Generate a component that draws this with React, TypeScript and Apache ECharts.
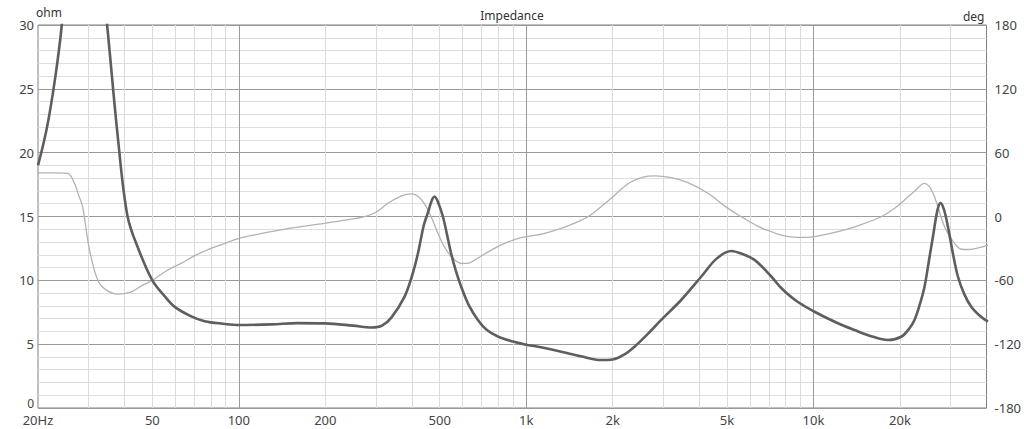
import React, { useEffect, useRef } from "react";
import * as echarts from "echarts";

const impFreq = [20, 21.5, 23, 24.2, 26, 28, 30, 32, 34.8, 38, 41, 45, 50, 55, 60, 68, 76, 88, 100, 130, 160, 200, 250, 290, 315, 340, 377, 400, 420, 440, 455, 470, 480, 492, 513, 530, 548, 570, 594, 630, 679, 730, 797, 900, 1000, 1100, 1324, 1550, 1824, 2000, 2200, 2382, 2650, 2951, 3463, 4064, 4600, 5171, 5600, 6233, 7127, 7720, 8700, 10080, 12000, 13890, 16000, 18150, 20200, 21500, 22460, 23500, 24340, 25200, 26030, 27000, 27670, 28400, 29370, 30500, 31820, 33500, 35400, 38000, 40460];
const impOhm = [19.0, 22, 26, 30, 38, 44, 44, 38, 30, 21, 15, 12.3, 10, 8.8, 7.9, 7.2, 6.8, 6.6, 6.5, 6.55, 6.65, 6.63, 6.45, 6.3, 6.45, 7.1, 8.7, 10.3, 12.1, 14.3, 15.3, 16.3, 16.55, 16.2, 15.0, 13.6, 12.1, 10.7, 9.5, 8.1, 6.9, 6.1, 5.6, 5.2, 4.95, 4.8, 4.41, 4.05, 3.76, 3.8, 4.2, 4.8, 5.8, 6.9, 8.46, 10.28, 11.7, 12.3, 12.1, 11.6, 10.3, 9.4, 8.4, 7.54, 6.7, 6.11, 5.6, 5.33, 5.58, 6.2, 6.9, 8.2, 9.5, 11.5, 13.4, 15.5, 16.05, 15.6, 14.2, 12.2, 10.28, 8.9, 7.93, 7.2, 6.76];

const phaseFreq = [20, 23, 25.4, 26.8, 27.7, 28.6, 30.2, 32.3, 34.5, 37.9, 42, 46, 50.2, 56, 63, 70, 80, 90, 99, 115, 140, 170, 199, 240, 274, 300, 330, 365, 398, 420, 440, 467, 490, 519, 555, 594, 625, 661, 740, 841, 961, 1041, 1150, 1324, 1480, 1640, 1800, 1977, 2150, 2320, 2550, 2797, 3200, 3654, 4290, 4900, 5603, 6500, 7127, 7720, 8500, 9305, 10500, 12160, 14500, 17210, 19000, 20740, 22500, 24340, 25300, 26360, 27400, 28580, 30500, 32660, 35000, 38000, 40460];
const phaseDeg = [41, 41, 40.5, 31, 20, 9, -31, -60, -69, -73, -71, -65, -59.7, -51, -44, -37, -30, -25, -21, -17, -12.5, -9, -6.4, -3, -0.2, 4, 12.4, 19, 21.2, 19, 13, -0.2, -14, -28.4, -39, -44, -44, -41, -33, -25.2, -19.9, -18.3, -16, -11.1, -6, -0.2, 8, 17.1, 26, 32.7, 37, 38.1, 36.5, 31.8, 21.8, 10, -0.2, -10, -14.3, -17.5, -19.3, -19.6, -18, -14.3, -8, -0.2, 7, 15.5, 24, 31.2, 28, 18.6, 5, -9.6, -23, -30.8, -31, -29, -26.8];

const xLabelValues = [20, 50, 100, 200, 500, 1000, 2000, 5000, 10000, 20000];
const xLabelTexts = ["20Hz", "50", "100", "200", "500", "1k", "2k", "5k", "10k", "20k"];
const xMinorGrid = [30, 40, 50, 60, 70, 80, 90, 200, 300, 400, 500, 600, 700, 800, 900, 2000, 3000, 4000, 5000, 6000, 7000, 8000, 9000, 20000, 30000];
const xMajorGrid = [100, 1000, 10000];

const X_MIN = 20;
const X_MAX = 40000;

const zip = (a: number[], b: number[]) => a.map((v, i) => [v, b[i]]);

export default function App() {
  const ref = useRef<HTMLDivElement>(null);
  useEffect(() => {
    if (!ref.current) return;
    const chart = echarts.init(ref.current, null, { renderer: "svg" });
    const font = "Noto Sans";
    const baseX = {
      type: "log" as const,
      logBase: 10,
      min: X_MIN,
      max: X_MAX,
      gridIndex: 0,
    };
    chart.setOption({
      animation: false,
      backgroundColor: "#ffffff",
      title: {
        text: "Impedance",
        left: "center",
        top: 4,
        textStyle: { fontFamily: font, fontSize: 12, fontWeight: "normal", color: "#333" },
      },
      grid: {
        left: 38,
        right: 37,
        top: 25,
        bottom: 21,
        show: true,
        borderColor: "#808080",
        borderWidth: 1,
        backgroundColor: "transparent",
      },
      xAxis: [
        {
          ...baseX,
          position: "bottom",
          axisLine: { show: false },
          axisTick: { show: false, customValues: xLabelValues },
          splitLine: { show: false },
          axisLabel: {
            show: true,
            customValues: xLabelValues,
            margin: 5,
            fontFamily: font,
            fontSize: 13,
            color: "#444",
            showMinLabel: true,
            formatter: (v: number) => {
              const i = xLabelValues.findIndex((x) => Math.abs(x - v) / x < 1e-6);
              return i >= 0 ? xLabelTexts[i] : "";
            },
          },
        },
        {
          ...baseX,
          axisLine: { show: false },
          axisTick: { show: false, customValues: xMinorGrid },
          axisLabel: { show: false },
          splitLine: { show: true, lineStyle: { color: "#dcdcdc", width: 1 } },
        },
        {
          ...baseX,
          axisLine: { show: false },
          axisTick: { show: false, customValues: xMajorGrid },
          axisLabel: { show: false },
          splitLine: { show: true, lineStyle: { color: "#9a9a9a", width: 1 } },
        },
      ],
      yAxis: [
        {
          type: "value",
          min: 0,
          max: 30,
          interval: 5,
          position: "left",
          name: "ohm",
          nameLocation: "end",
          nameGap: 3,
          nameTextStyle: { align: "left", fontFamily: font, fontSize: 12, color: "#333", padding: [0, 0, 0, -2] },
          axisLine: { show: false },
          axisTick: { show: false },
          axisLabel: {
            margin: 4,
            fontFamily: font,
            fontSize: 13,
            color: "#444",
            formatter: (v: number) => (v === 0 ? "{z|0}" : String(v)),
            rich: { z: { fontFamily: font, fontSize: 12, color: "#444", padding: [0, 0, 9, 0] } },
          },
          splitLine: { show: true, lineStyle: { color: "#9a9a9a", width: 1 } },
          minorTick: { show: false, splitNumber: 5 },
          minorSplitLine: { show: true, lineStyle: { color: "#dedede", width: 1 } },
        },
        {
          type: "value",
          min: -180,
          max: 180,
          interval: 60,
          position: "right",
          name: "deg",
          nameLocation: "end",
          nameGap: 3,
          nameTextStyle: { align: "right", fontFamily: font, fontSize: 12, color: "#333", padding: [0, 2, 0, 0] },
          axisLine: { show: false },
          axisTick: { show: false },
          axisLabel: { margin: 8, fontFamily: font, fontSize: 13, color: "#444" },
          splitLine: { show: false },
        },
      ],
      series: [
        {
          type: "line",
          name: "Phase",
          xAxisIndex: 0,
          yAxisIndex: 1,
          data: zip(phaseFreq, phaseDeg),
          smooth: 0.35,
          showSymbol: false,
          lineStyle: { color: "#b2b2b2", width: 1.3 },
          clip: true,
          z: 3,
        },
        {
          type: "line",
          name: "Impedance",
          xAxisIndex: 0,
          yAxisIndex: 0,
          data: zip(impFreq, impOhm),
          smooth: 0.35,
          showSymbol: false,
          lineStyle: { color: "#5e5e5e", width: 2.6 },
          clip: true,
          z: 4,
        },
      ],
    });
    return () => chart.dispose();
  }, []);
  return (
    <div
      ref={ref}
      style={{ position: "fixed", left: 0, top: 0, width: 1024, height: 429, background: "#fff" }}
    />
  );
}
